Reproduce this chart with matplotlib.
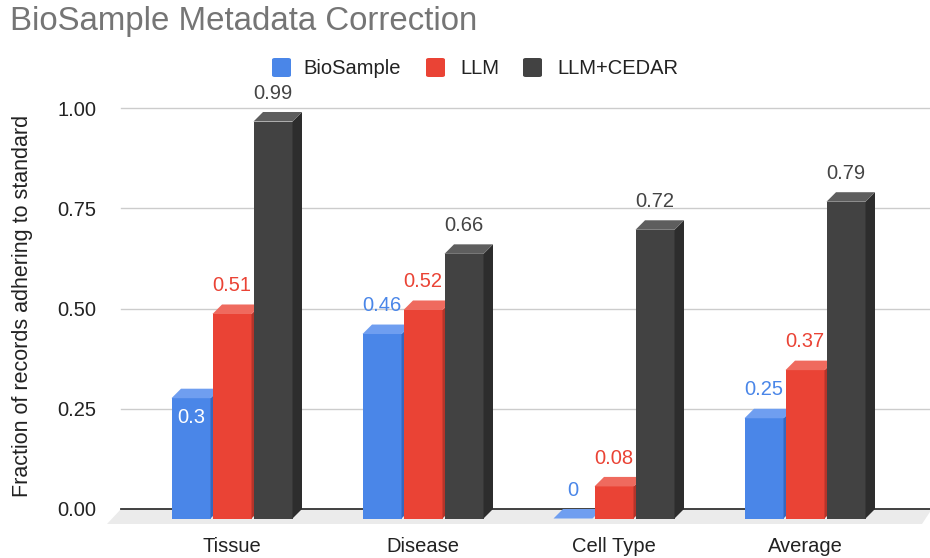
import matplotlib
matplotlib.use("Agg")
import matplotlib.pyplot as plt
from matplotlib.patches import Polygon, FancyBboxPatch
import numpy as np

# ---- data ----
categories = ["Tissue", "Disease", "Cell Type", "Average"]
series_names = ["BioSample", "LLM", "LLM+CEDAR"]
biosample = [0.30, 0.46, 0.00, 0.25]
llm = [0.51, 0.52, 0.08, 0.37]
llm_cedar = [0.99, 0.66, 0.72, 0.79]
label_text_biosample = ["0.3", "0.46", "0", "0.25"]
label_text_llm = ["0.51", "0.52", "0.08", "0.37"]
label_text_cedar = ["0.99", "0.66", "0.72", "0.79"]
yticks = [0.0, 0.25, 0.5, 0.75, 1.0]
ytick_labels = ["0.00", "0.25", "0.50", "0.75", "1.00"]

series = [biosample, llm, llm_cedar]
labels = [label_text_biosample, label_text_llm, label_text_cedar]

# ---- style ----
face = ["#4a86e8", "#ea4335", "#424242"]
top = ["#6f9ef0", "#ef6a5e", "#5e5e5e"]
side = ["#3767bd", "#b5342a", "#2d2d2d"]
label_col = ["#4a86e8", "#ea4335", "#444444"]
FONT = "Liberation Sans"
FS = 14.5

W, H = 930, 558
fig = plt.figure(figsize=(W / 100, H / 100), dpi=100)

# pixel geometry
px_x0 = 232.0          # pixel of category 0 (front face group centre)
px_per_x = 191.0
px_y0 = 509.0          # pixel of value 0
px_per_y = 401.0
ax_left_px, ax_right_px = 105.0, 930.0
ylim = (-0.05, 1.05)
xlim = ((ax_left_px - px_x0) / px_per_x, (ax_right_px - px_x0) / px_per_x)
ax_top_px = px_y0 - ylim[1] * px_per_y
ax_bot_px = px_y0 - ylim[0] * px_per_y
ax = fig.add_axes([ax_left_px / W, 1 - ax_bot_px / H,
                   (ax_right_px - ax_left_px) / W, (ax_bot_px - ax_top_px) / H])
ax.set_xlim(*xlim)
ax.set_ylim(*ylim)
for s in ax.spines.values():
    s.set_visible(False)

dx = 9.5 / px_per_x
dy = 9.5 / px_per_y
bw = 39.0 / px_per_x
pitch = 41.0 / px_per_x

back_left = (121 - px_x0) / px_per_x
right_end = xlim[1]

# grid lines (back plane)
for t in yticks[1:]:
    ax.plot([back_left, right_end], [t, t], color="#cccccc", lw=1.0, zorder=1)

# floor
floor_d = 15.0 / px_per_y
floor = Polygon([(back_left, 0), (right_end + 0.01, 0),
                 ((922 - px_x0) / px_per_x, -floor_d), ((107 - px_x0) / px_per_x, -floor_d)],
                closed=True, facecolor="#ebebeb", edgecolor="none", zorder=0.5)
ax.add_patch(floor)
ax.plot([back_left, right_end], [0, 0], color="#333333", lw=1.3, zorder=1.5)

x = np.arange(len(categories))
z = 3
for si, vals in enumerate(series):
    offs = (si - 1) * pitch
    for ci, v in enumerate(vals):
        x0 = x[ci] + offs - bw / 2
        x1 = x0 + bw
        # front face
        ax.bar(x0, v, width=bw, bottom=-dy, align="edge", color=face[si],
               linewidth=0, zorder=z)
        # side face
        ax.add_patch(Polygon([(x1, -dy), (x1, v - dy), (x1 + dx, v), (x1 + dx, 0)],
                             closed=True, facecolor=side[si], edgecolor="none", zorder=z))
        # top face
        ax.add_patch(Polygon([(x0, v - dy), (x1, v - dy), (x1 + dx, v), (x0 + dx, v)],
                             closed=True, facecolor=top[si], edgecolor="none", zorder=z))
    z += 1

# data labels
inside = {(0, 0)}
for si, vals in enumerate(series):
    offs = (si - 1) * pitch
    for ci, v in enumerate(vals):
        cx = x[ci] + offs
        if (si, ci) in inside:
            ax.text(cx, v - 0.071, labels[si][ci], ha="center", va="center",
                    fontsize=FS, color="white", family=FONT, zorder=10)
        else:
            ax.text(cx, v + 0.047, labels[si][ci], ha="center", va="center",
                    fontsize=FS, color=label_col[si], family=FONT, zorder=10)

ax.set_yticks(yticks)
ax.set_yticklabels(ytick_labels, family=FONT, fontsize=FS, color="#222222")
ax.set_xticks(x)
ax.set_xticklabels(categories, family=FONT, fontsize=FS, color="#222222")
ax.tick_params(axis="y", length=0, pad=6)
ax.tick_params(axis="x", length=0, pad=5.5)

# y label
fig.text(23 / W, 1 - 306 / H, "Fraction of records adhering to standard", rotation=90,
         ha="center", va="center", fontsize=15.5, family=FONT, color="#222222")

# title
fig.text(10 / W, 1 - 30 / H, "BioSample Metadata Correction", ha="left", va="baseline",
         fontsize=23.8, family=FONT, color="#757575")

# legend
leg_box_x = [272, 426, 523]
leg_text_x = [303, 460, 557]
for si, name in enumerate(series_names):
    bx = leg_box_x[si]
    fig.patches.append(FancyBboxPatch((bx / W, 1 - 77 / H), 19 / W, 19 / H,
                                      boxstyle="round,pad=0,rounding_size=0.003",
                                      transform=fig.transFigure, facecolor=face[si],
                                      edgecolor="none"))
    fig.text(leg_text_x[si] / W, 1 - 73.5 / H, name, ha="left", va="baseline",
             fontsize=FS, family=FONT, color="#222222")

fig.savefig("out.png", dpi=100)
